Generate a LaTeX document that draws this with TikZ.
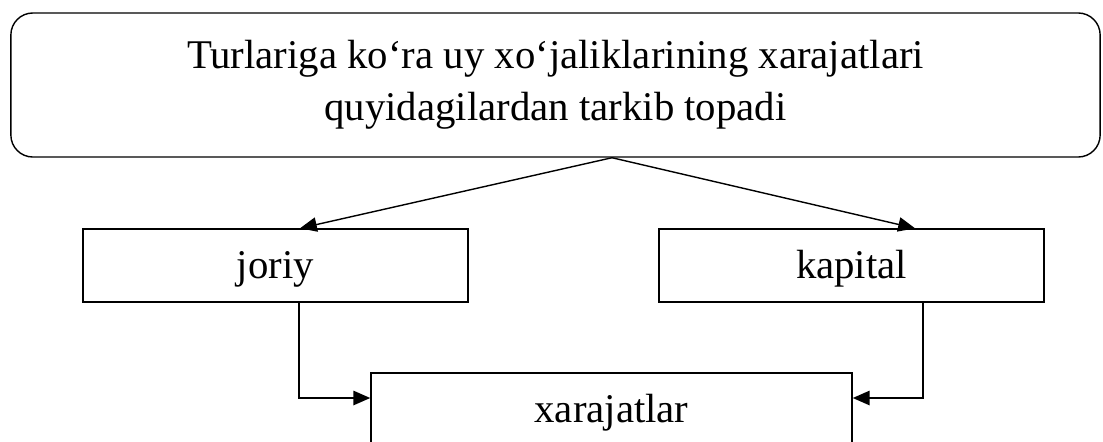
\documentclass[tikz,border=0pt]{standalone}
\usepackage{fontspec}
\setmainfont{Liberation Serif}
\usetikzlibrary{positioning,arrows.meta,calc}

\begin{document}
\begin{tikzpicture}[x=0.025cm, y=-0.025cm, >={Triangle[length=0.42cm,width=0.36cm]},
    font=\fontsize{29}{34}\selectfont,
    box/.style={draw, line width=1pt, minimum height=1.825cm, inner sep=0pt, text height=22pt, text depth=4.2pt},
    head/.style={draw, line width=1pt, rounded corners=0.55cm, minimum width=27.225cm, minimum height=3.6cm,
      align=center, font=\fontsize{29}{34}\selectfont},
    link/.style={->, line width=1pt}]
  \useasboundingbox (0,0) rectangle (1103,441);
  \node[head] (head) at (555.5,85) {Turlariga ko‘ra uy xo‘jaliklarining xarajatlari\\[3pt]quyidagilardan tarkib topadi};
  \node[box, minimum width=9.625cm] (joriy) at (275.5,265.5) {joriy};
  \node[box, minimum width=9.625cm] (kapital) at (851.5,265.5) {kapital};
  \node[box, minimum width=12.025cm] (xarajat) at (611.5,409.5) {xarajatlar};
  % split point under the heading
  \coordinate (fork) at ($(head.south)+(56.5,0)$);
  \draw[link] (fork) -- ($(joriy.north)+(24.5,0)$);
  \draw[link] (fork) -- ($(kapital.north)+(63.5,0)$);
  % both kinds feed the total
  \draw[link] ($(joriy.south)+(23.5,0)$) |- ($(xarajat.west)+(0,-11.5)$);
  \draw[link] ($(kapital.south)+(71.5,0)$) |- ($(xarajat.east)+(0,-11.5)$);
\end{tikzpicture}
\end{document}
